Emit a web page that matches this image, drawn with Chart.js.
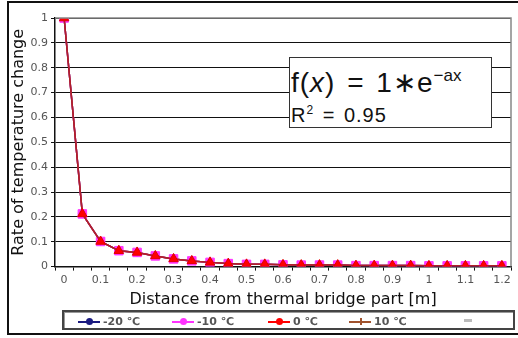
<!DOCTYPE html>
<html>
<head>
<meta charset="utf-8">
<script src="https://cdn.jsdelivr.net/npm/chart.js@4.4.1/dist/chart.umd.min.js"></script>
<style>
  body { margin: 0; background: #fff; font-family: "Liberation Sans", Arial, sans-serif; }
  #wrap { position: relative; width: 518px; height: 338px; overflow: hidden; }
  #frame { position: absolute; left: 7px; top: 1px; width: 520px; height: 334px; border: 2px solid #111; box-sizing: border-box; }
  canvas { position: absolute; left: 0; top: 0; }
  #eq { position: absolute; left: 289px; top: 57px; width: 203px; height: 71px; box-sizing: border-box;
        border: 1.5px solid #333; background: #fff; color: #111; padding-left: 1px; }
  #eq .l1 { font-size: 28px; line-height: 30px; margin-top: 3px; letter-spacing: 1px; word-spacing: 3px; }
  #eq .l1 sup { font-size: 17px; vertical-align: 11px; letter-spacing: 0; }
  #eq .l2 { font-size: 20px; line-height: 24px; letter-spacing: 1px; word-spacing: 2px; }
  #eq .l2 sup { font-size: 12px; vertical-align: 8px; }
  #legend { position: absolute; left: 62px; top: 310px; width: 453px; height: 20px; box-sizing: border-box;
            border: 2px solid #444; box-shadow: 1px 1px 0 #999 inset; background: #fff; }
  .item { position: absolute; top: 3px; height: 12px; font: bold 11px "DejaVu Sans", sans-serif; color: #555; white-space: nowrap; }
  .item .ln { position: absolute; left: 0; top: 6px; width: 22px; height: 2px; }
  .item .mk { position: absolute; left: 8px; top: 3px; width: 7px; height: 7px; border-radius: 50%; }
  .item .tx { position: absolute; left: 25px; top: 0; }
</style>
</head>
<body>
<div id="wrap">
  <canvas id="c" width="518" height="338"></canvas>
  <div id="frame"></div>
  <div id="eq">
    <div class="l1">f(<i>x</i>) = 1∗e<sup>−ax</sup></div>
    <div class="l2">R<sup>2</sup> = 0.95</div>
  </div>
  <div id="legend"></div>
</div>
<script>
const distances = ['0', '0.05', '0.1', '0.15', '0.2', '0.25', '0.3', '0.35', '0.4', '0.45', '0.5', '0.55', '0.6',
  '0.65', '0.7', '0.75', '0.8', '0.85', '0.9', '0.95', '1', '1.05', '1.1', '1.15', '1.2'];

const minus20 = [1, 0.212, 0.101, 0.064, 0.057, 0.043, 0.031, 0.023, 0.017, 0.012, 0.009, 0.009, 0.007,
  0.006, 0.006, 0.006, 0.004, 0.004, 0.004, 0.004, 0.003, 0.003, 0.003, 0.003, 0.003];
const minus10 = [1, 0.212, 0.101, 0.064, 0.057, 0.043, 0.031, 0.023, 0.017, 0.012, 0.009, 0.009, 0.007,
  0.006, 0.006, 0.006, 0.004, 0.004, 0.004, 0.004, 0.003, 0.003, 0.003, 0.003, 0.003];
const zero = [1, 0.212, 0.101, 0.064, 0.057, 0.043, 0.031, 0.023, 0.017, 0.012, 0.009, 0.009, 0.007,
  0.006, 0.006, 0.006, 0.004, 0.004, 0.004, 0.004, 0.003, 0.003, 0.003, 0.003, 0.003];
const plus10 = [1, 0.212, 0.101, 0.064, 0.057, 0.043, 0.031, 0.023, 0.017, 0.012, 0.009, 0.009, 0.007,
  0.006, 0.006, 0.006, 0.004, 0.004, 0.004, 0.004, 0.003, 0.003, 0.003, 0.003, 0.003];

const seriesNames = ['-20 ℃', '-10 ℃', '0 ℃', '10 ℃'];
const seriesColors = ['#1a1a80', '#ff33ff', '#ff0000', '#a0522d'];
const legendLeft = [14, 108, 204, 285];

// legend built by hand, chart.js legend has no frame
const legendEl = document.getElementById('legend');
seriesNames.forEach((name, i) => {
  const it = document.createElement('div');
  it.className = 'item';
  it.style.left = legendLeft[i] + 'px';
  it.innerHTML = '<span class="ln" style="background:' + seriesColors[i] + '"></span>' +
    '<span class="mk" style="background:' + seriesColors[i] + (i === 3 ? ';width:2px;left:11px;border-radius:0' : '') + '"></span>' +
    '<span class="tx">' + name + '</span>';
  legendEl.appendChild(it);
});
const dash = document.createElement('div');
dash.style.cssText = 'position:absolute;left:400px;top:7px;width:8px;height:3px;background:#bbb';
legendEl.appendChild(dash);

const plotFrame = {
  id: 'plotFrame',
  afterDraw(chart) {
    const { ctx, chartArea: a } = chart;
    ctx.save();
    ctx.strokeStyle = '#888';
    ctx.lineWidth = 1.5;
    ctx.beginPath();
    ctx.moveTo(a.left, a.top);
    ctx.lineTo(a.right, a.top);
    ctx.lineTo(a.right, a.bottom);
    ctx.stroke();
    ctx.restore();
  }
};

new Chart(document.getElementById('c'), {
  type: 'line',
  data: {
    labels: distances,
    datasets: [
      { label: seriesNames[0], data: minus20, order: 3, borderColor: '#1a1a80', backgroundColor: '#1a1a80', pointStyle: 'rectRot', pointRadius: 4 },
      { label: seriesNames[1], data: minus10, order: 2, borderColor: '#ff33ff', backgroundColor: '#ff33ff', pointStyle: 'rect', pointRadius: 6 },
      { label: seriesNames[2], data: zero, order: 0, borderColor: '#b0202a', backgroundColor: '#ff0000', pointBorderColor: '#e00000', pointStyle: 'triangle', pointRadius: 5.5 },
      { label: seriesNames[3], data: plus10, order: 1, borderColor: '#a52a2a', backgroundColor: '#a52a2a', pointStyle: 'crossRot', pointRadius: 3 }
    ]
  },
  options: {
    responsive: false,
    animation: false,
    layout: { padding: { left: 9, right: 1, top: 18, bottom: 29 } },
    elements: { line: { borderWidth: 1.5, tension: 0 }, point: { borderWidth: 1 } },
    plugins: { legend: { display: false }, tooltip: { enabled: false } },
    scales: {
      x: {
        offset: true,
        grid: { offset: true, drawOnChartArea: false, color: '#111', tickLength: 4 },
        border: { color: '#111', width: 1.5 },
        ticks: {
          color: '#555', font: { family: 'DejaVu Sans', size: 11 }, maxRotation: 0, autoSkip: false,
          callback: (v, i) => (i % 2 === 0 ? distances[i] : '')
        },
        title: { display: true, text: 'Distance from thermal bridge part [m]', color: '#111',
                 font: { family: 'DejaVu Sans', size: 16 }, padding: { top: 0, bottom: 0 } }
      },
      y: {
        min: 0, max: 1,
        afterFit: (s) => { s.width = 46; },
        grid: { color: '#111', lineWidth: 1, tickLength: 4 },
        border: { color: '#111', width: 1.5 },
        ticks: { stepSize: 0.1, color: '#555', font: { family: 'DejaVu Sans', size: 11 },
                 callback: (v) => Math.round(v * 10) / 10 },
        title: { display: true, text: 'Rate of temperature change', color: '#111',
                 font: { family: 'DejaVu Sans', size: 16 }, padding: { top: 0, bottom: 1 } }
      }
    }
  },
  plugins: [plotFrame]
});
</script>
</body>
</html>
